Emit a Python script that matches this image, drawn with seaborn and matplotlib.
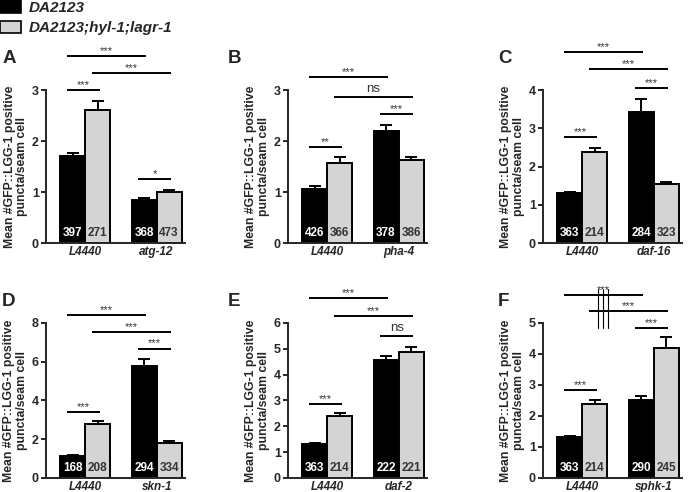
"""
GFP::LGG-1 puncta per seam cell - 6 panel RNAi bar chart (A-F)
"""

import matplotlib
matplotlib.use("Agg")

import matplotlib.pyplot as plt
import matplotlib.transforms as mtransforms
from matplotlib.patches import Patch
import seaborn as sns
import pandas as pd

sns.set_style("ticks")
plt.rcParams["font.family"] = ["Liberation Sans", "DejaVu Sans"]

# ---- data ----------------------------------------------------------------
strains = ["DA2123", "DA2123;hyl-1;lagr-1"]
strain_colors = ["#000000", "#d4d4d4"]

panels = ["A", "B", "C", "D", "E", "F"]
control = "L4440"
genes = ["atg-12", "pha-4", "daf-16", "skn-1", "daf-2", "sphk-1"]

# order of each list: L4440/DA2123, L4440/mutant, gene/DA2123, gene/mutant
means = {
    "A": [1.70, 2.60, 0.84, 1.00],
    "B": [1.06, 1.57, 2.20, 1.62],
    "C": [1.30, 2.38, 3.42, 1.54],
    "D": [1.14, 2.77, 5.77, 1.80],
    "E": [1.32, 2.41, 4.58, 4.86],
    "F": [1.31, 2.40, 2.53, 4.19],
}
sems = {
    "A": [0.07, 0.19, 0.04, 0.04],
    "B": [0.05, 0.11, 0.11, 0.07],
    "C": [0.03, 0.11, 0.34, 0.06],
    "D": [0.04, 0.16, 0.36, 0.10],
    "E": [0.03, 0.11, 0.16, 0.21],
    "F": [0.03, 0.10, 0.10, 0.36],
}
counts = {
    "A": [397, 271, 368, 473],
    "B": [426, 366, 378, 386],
    "C": [363, 214, 284, 323],
    "D": [168, 208, 294, 334],
    "E": [363, 214, 222, 221],
    "F": [363, 214, 290, 245],
}
y_max = {"A": 3, "B": 3, "C": 4, "D": 8, "E": 6, "F": 5}
y_step = {"A": 1, "B": 1, "C": 1, "D": 2, "E": 1, "F": 1}

# significance brackets: (bar from, bar to, height, label)
brackets = {
    "A": [(0, 2, 3.67, "***"), (1, 3, 3.33, "***"), (0, 1, 3.00, "***"), (2, 3, 1.25, "*")],
    "B": [(0, 2, 3.25, "***"), (1, 3, 2.87, "ns"), (2, 3, 2.53, "***"), (0, 1, 1.88, "**")],
    "C": [(0, 2, 4.99, "***"), (1, 3, 4.55, "***"), (2, 3, 4.05, "***"), (0, 1, 2.77, "***")],
    "D": [(0, 2, 8.42, "***"), (1, 3, 7.53, "***"), (2, 3, 6.68, "***"), (0, 1, 3.39, "***")],
    "E": [(0, 2, 6.97, "***"), (1, 3, 6.26, "***"), (2, 3, 5.51, "ns"), (0, 1, 2.88, "***")],
    "F": [(0, 2, 5.91, "***"), (1, 3, 5.40, "***"), (2, 3, 4.84, "***"), (0, 1, 2.85, "***")],
}
# panel F: the top stars are smeared into vertical strokes down to this bracket
smear = {"F": (0, 2)}

YLABEL = "Mean #GFP::LGG-1 positive\npuncta/seam cell"

# ---- layout (figure fractions) -------------------------------------------
col_left = [0.0665, 0.4176, 0.7877]
ax_width = 0.2023
row_bottom = [0.506, 0.0285]
row_height = [0.311, 0.315]
letter_x = [0.003, 0.331, 0.723]
letter_y = [0.882, 0.388]


def draw_panel(ax, key, gene):
    df = pd.DataFrame({
        "rnai": [control, control, gene, gene],
        "strain": strains * 2,
        "mean": means[key],
    })
    sns.barplot(
        data=df, x="rnai", y="mean", hue="strain", hue_order=strains,
        palette=strain_colors, width=0.7, gap=0, edgecolor="black",
        linewidth=1.4, errorbar=None, legend=False, ax=ax,
    )

    # bars in the same order as the data lists
    bars = []
    for i in range(2):
        for h in range(2):
            bars.append(ax.containers[h][i])
    centers = [b.get_x() + b.get_width() / 2 for b in bars]

    # SEM (upper only)
    for k, b in enumerate(bars):
        ax.errorbar(
            centers[k], b.get_height(), yerr=[[0], [sems[key][k]]],
            fmt="none", ecolor="black", elinewidth=1.4, capsize=4,
            capthick=1.4, zorder=3,
        )

    # n inside bars
    trans = mtransforms.blended_transform_factory(ax.transData, ax.transAxes)
    for k, n in enumerate(counts[key]):
        ax.text(
            centers[k], 0.065, str(n), transform=trans, ha="center",
            va="center", fontsize=8.5, fontweight="bold",
            color="white" if k % 2 == 0 else "#333333", zorder=4,
        )

    # brackets
    for a, b, y, lbl in brackets[key]:
        x0, x1 = centers[a] - 0.08, centers[b] + 0.03
        ax.plot([x0, x1], [y, y], color="black", lw=1.4,
                clip_on=False, solid_capstyle="butt")
        if lbl == "ns":
            ax.annotate(lbl, ((x0 + x1) / 2, y), xytext=(0, 1),
                        textcoords="offset points", ha="center", va="bottom",
                        fontsize=9.5, color="#333333", annotation_clip=False)
        else:
            ax.annotate(lbl, ((x0 + x1) / 2, y), xytext=(0, 0),
                        textcoords="offset points", ha="center", va="bottom",
                        fontsize=8, color="#333333", annotation_clip=False)

    if key in smear:
        top, low = smear[key]
        a, b, y, _ = brackets[key][top]
        y_low = brackets[key][low][2]
        xm = (centers[a] - 0.08 + centers[b] + 0.03) / 2
        for dx in (-0.07, 0.0, 0.07):
            ax.plot([xm + dx, xm + dx], [y + 0.2, y_low], color="black",
                    lw=0.8, clip_on=False)

    ax.set_xlim(-0.55, 1.40)
    ax.set_ylim(0, y_max[key])
    ax.set_yticks(range(0, y_max[key] + 1, y_step[key]))
    ax.set_xlabel("")
    ax.set_ylabel(YLABEL, fontsize=8.8, fontweight="bold", labelpad=2.5,
                  linespacing=1.1)
    ax.tick_params(axis="y", direction="out", length=3.5, width=1.4,
                   labelsize=9, pad=1.5)
    ax.tick_params(axis="x", length=0, labelsize=8.5, pad=2)
    for t in ax.get_yticklabels():
        t.set_fontweight("bold")
    for t in ax.get_xticklabels():
        t.set_fontweight("bold")
        t.set_fontstyle("italic")
    sns.despine(ax=ax)
    for side in ("left", "bottom"):
        ax.spines[side].set_linewidth(1.4)


fig = plt.figure(figsize=(6.89, 4.92), dpi=100)

for idx, (key, gene) in enumerate(zip(panels, genes)):
    r, c = divmod(idx, 3)
    ax = fig.add_axes([col_left[c], row_bottom[r], ax_width, row_height[r]])
    draw_panel(ax, key, gene)
    fig.text(letter_x[c], letter_y[r], key, fontsize=13.5, fontweight="bold",
             ha="left", va="center")

handles = [
    Patch(facecolor=col, edgecolor="black", linewidth=1.2, label=s)
    for s, col in zip(strains, strain_colors)
]
fig.legend(
    handles=handles, loc="upper left", bbox_to_anchor=(0.0, 1.0),
    frameon=False, borderpad=0, borderaxespad=0, handlelength=1.35,
    handleheight=0.9, handletextpad=0.55, labelspacing=0.4,
    prop={"weight": "bold", "style": "italic", "size": 11},
)

fig.savefig("out.png", dpi=100)
